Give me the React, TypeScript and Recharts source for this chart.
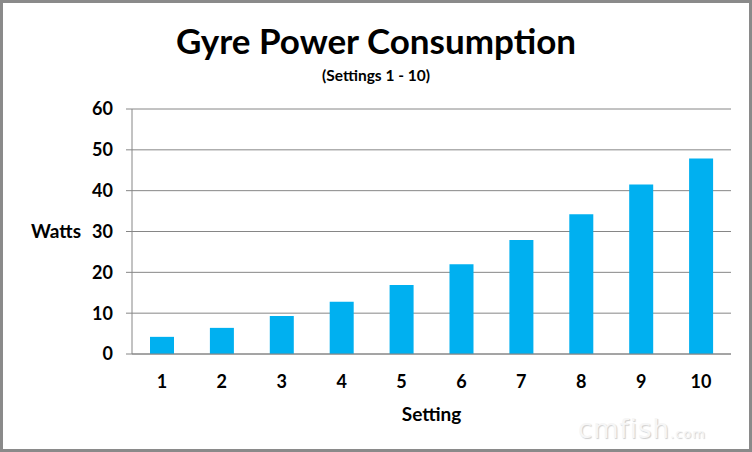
import { BarChart, Bar, XAxis, YAxis, CartesianGrid } from "recharts"

// Power draw per setting
const settings = ["1", "2", "3", "4", "5", "6", "7", "8", "9", "10"]
const watts = [4.2, 6.4, 9.3, 12.8, 16.9, 22.0, 27.9, 34.2, 41.5, 47.9]
const wattTicks = [0, 10, 20, 30, 40, 50, 60]
const edgeTicks = [0, 1, 2, 3, 4, 5, 6, 7, 8, 9, 10]

const data = settings.map((s, i) => ({ setting: s, watts: watts[i] }))

const FONT = "Lato, 'Open Sans', sans-serif"
const GRID = "#868686"
const BLUE = "#00B0F0"

export default function App() {
  return (
    <div
      style={{
        position: "absolute",
        left: 0,
        top: 0,
        width: 752,
        height: 452,
        background: "#fff",
        fontFamily: FONT,
      }}
    >
      <BarChart
        width={752}
        height={452}
        data={data}
        margin={{ top: 109, right: 21, left: 0, bottom: 0 }}
      >
        <CartesianGrid vertical={false} stroke={GRID} xAxisId="b-cat" />
        {/* boundary tick marks between categories, sits right under the plot */}
        <XAxis
          xAxisId="a-edge"
          type="number"
          domain={[0, 10]}
          ticks={edgeTicks}
          tick={false}
          tickSize={7}
          height={7}
          stroke={GRID}
          allowDataOverflow
        />
        <XAxis
          xAxisId="b-cat"
          dataKey="setting"
          axisLine={false}
          tickLine={false}
          tickSize={0}
          tickMargin={14}
          height={91}
          tick={{ fill: "#000", fontSize: 18, fontWeight: 700, fontFamily: FONT }}
          label={{
            value: "Setting",
            position: "insideTop",
            offset: 47,
            fill: "#000",
            fontSize: 19,
            fontWeight: 700,
            fontFamily: FONT,
          }}
        />
        <YAxis
          width={132}
          domain={[0, 60]}
          ticks={wattTicks}
          tickSize={6}
          tickMargin={13}
          stroke={GRID}
          tick={{ fill: "#000", fontSize: 18, fontWeight: 700, fontFamily: FONT }}
          label={{
            value: "Watts",
            position: "insideLeft",
            offset: 31,
            angle: 0,
            fill: "#000",
            fontSize: 19,
            fontWeight: 700,
            fontFamily: FONT,
          }}
        />
        <Bar dataKey="watts" xAxisId="b-cat" fill={BLUE} barSize={24} isAnimationActive={false} />
      </BarChart>

      <div
        style={{
          position: "absolute",
          left: 0,
          top: 19,
          width: 752,
          textAlign: "center",
          fontSize: 35,
          fontWeight: 700,
          lineHeight: "42px",
        }}
      >
        Gyre Power Consumption
      </div>
      <div
        style={{
          position: "absolute",
          left: 0,
          top: 65,
          width: 752,
          textAlign: "center",
          fontSize: 15.5,
          fontWeight: 700,
          lineHeight: "20px",
        }}
      >
        (Settings 1 - 10)
      </div>
      <div
        style={{
          position: "absolute",
          left: 578,
          top: 414,
          fontSize: 26,
          fontFamily: "'DejaVu Sans', sans-serif",
          color: "#f6f6f6",
          textShadow: "1px 1px 1px #cfcfcf",
          letterSpacing: 1,
        }}
      >
        cmfish<span style={{ fontSize: 13 }}>.com</span>
      </div>
      <div
        style={{
          position: "absolute",
          left: 0,
          top: 0,
          width: 752,
          height: 452,
          boxSizing: "border-box",
          border: "3px solid #8a8a8a",
          pointerEvents: "none",
        }}
      />
    </div>
  )
}
